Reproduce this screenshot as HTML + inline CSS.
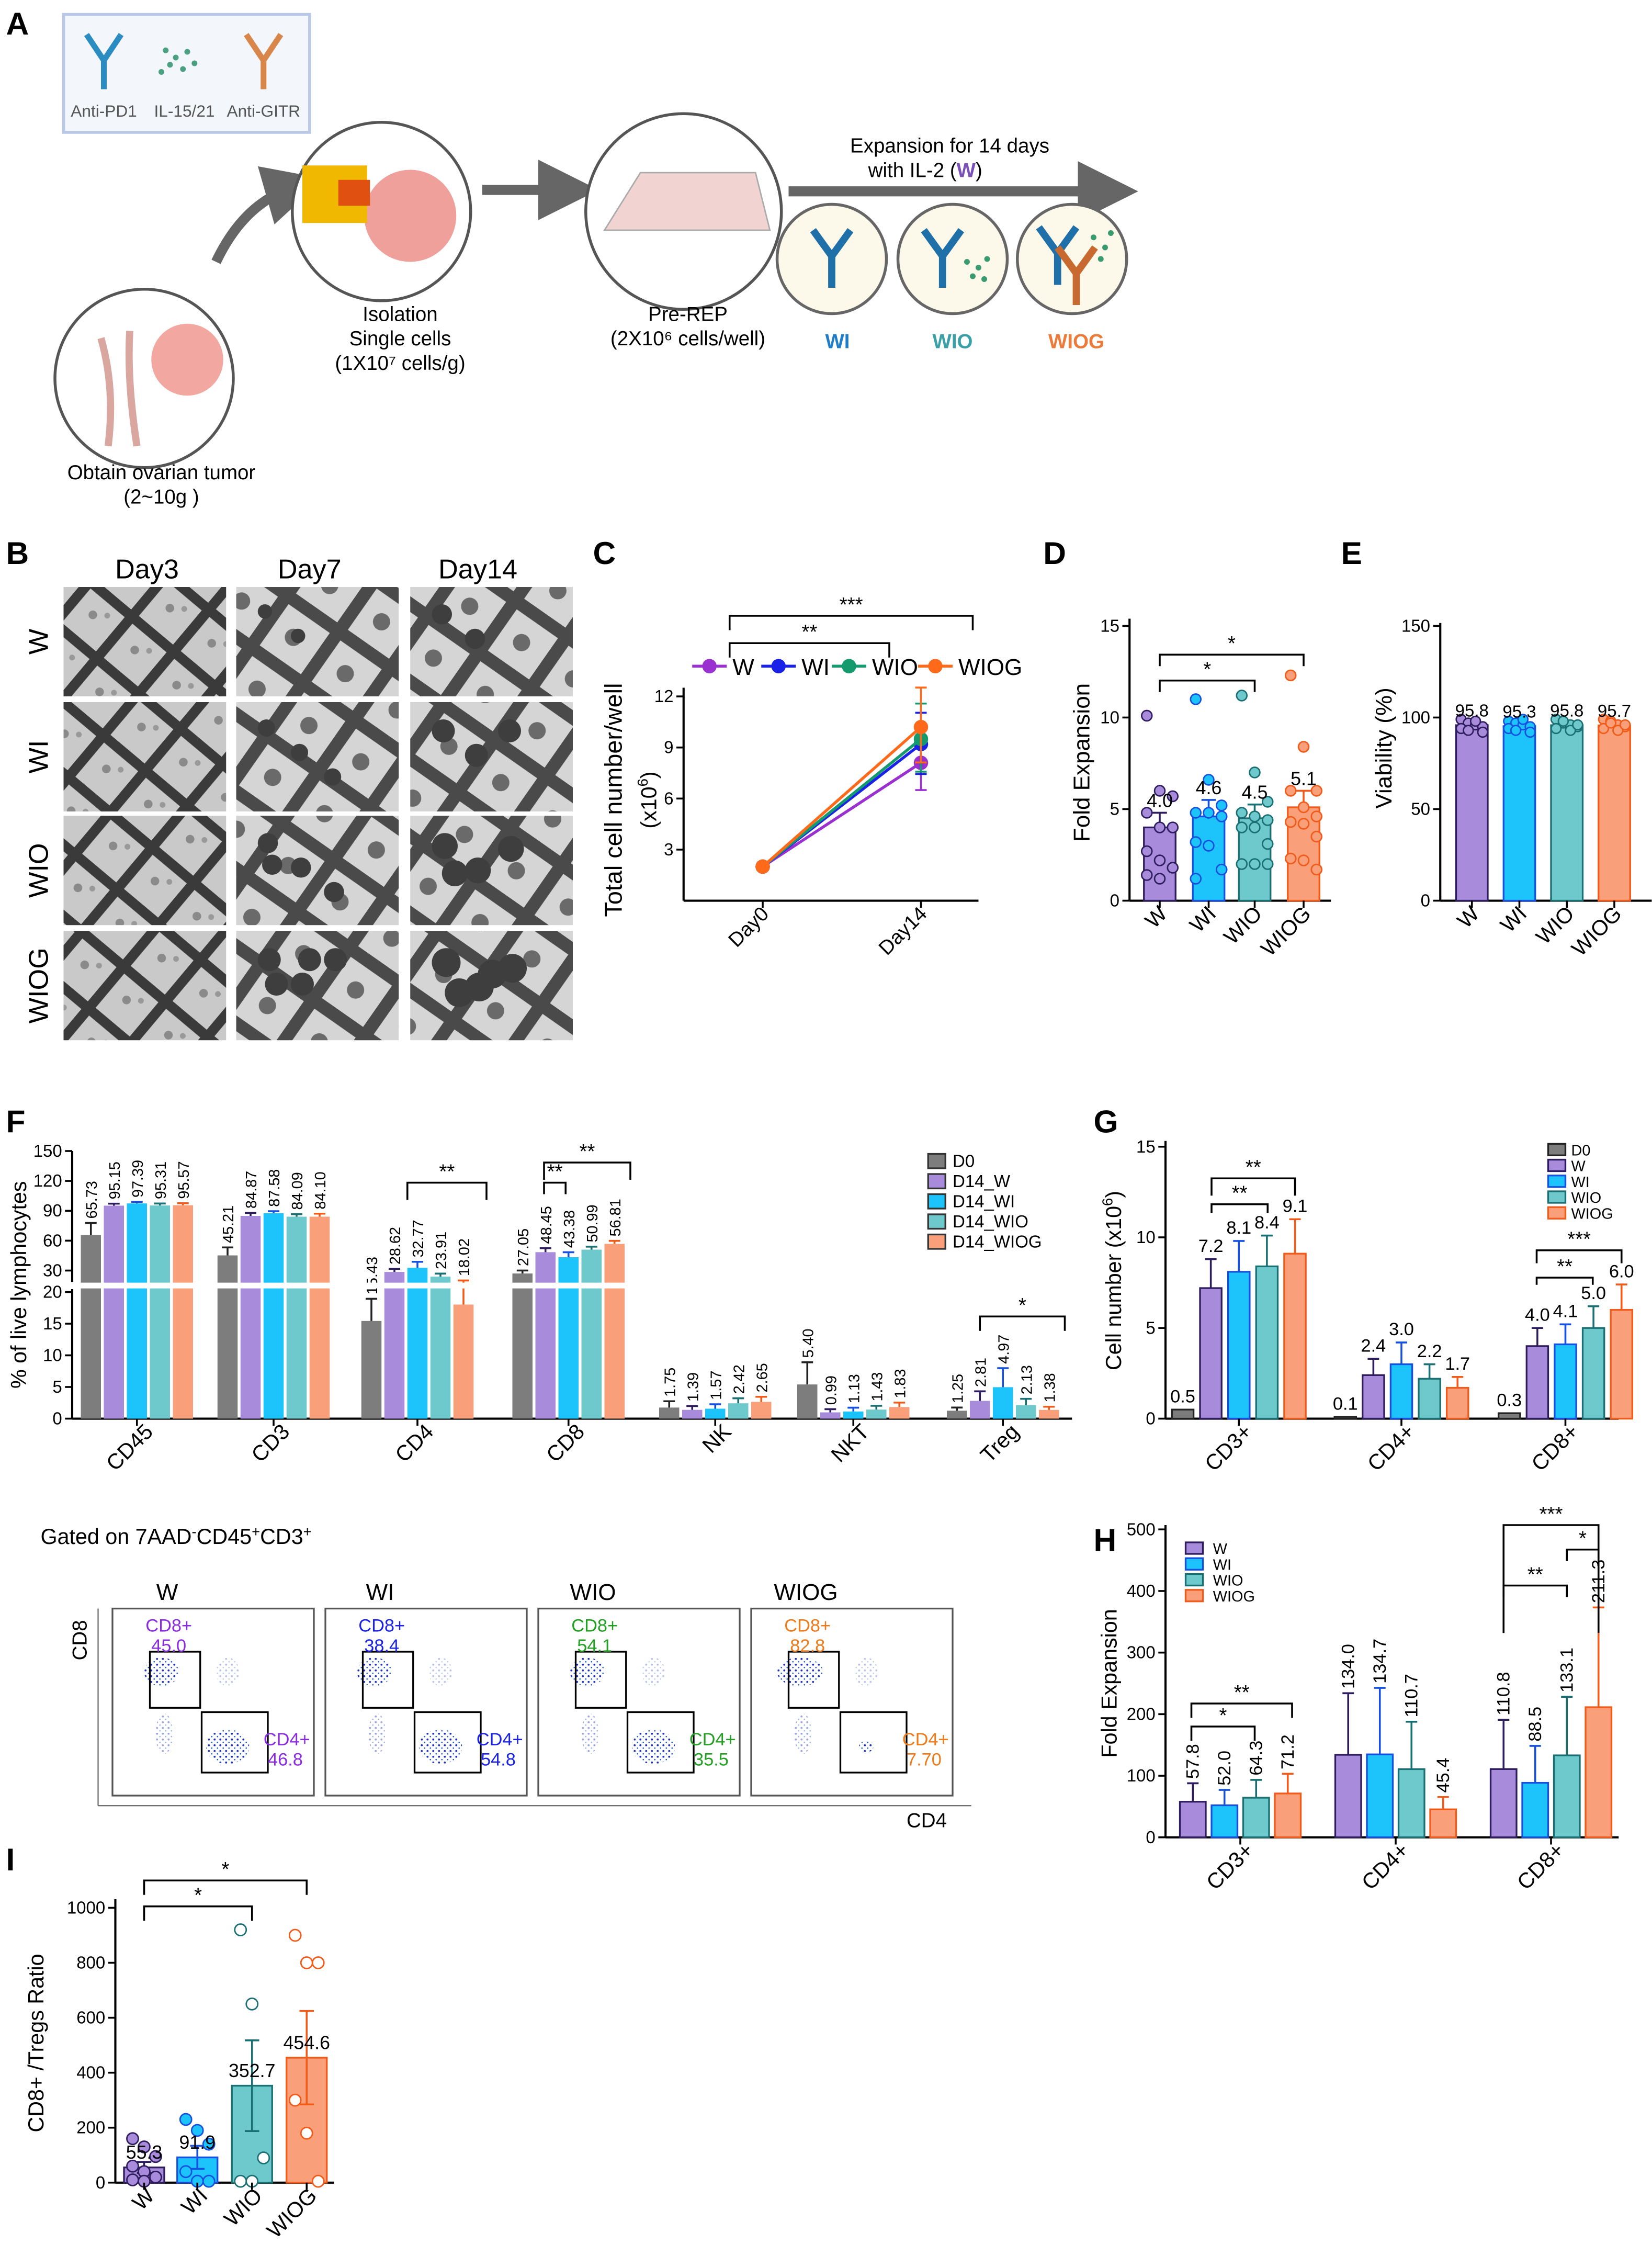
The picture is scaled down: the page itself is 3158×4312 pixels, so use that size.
<!DOCTYPE html>
<html><head><meta charset="utf-8"><style>
html,body{margin:0;padding:0;background:#fff;}
svg{display:block;font-family:"Liberation Sans",Arial,sans-serif;}
</style></head><body>
<svg id="fig" width="3158" height="4312" viewBox="0 0 1148 1568" xmlns="http://www.w3.org/2000/svg">
<defs>
<pattern id="mesh" width="38" height="38" patternUnits="userSpaceOnUse" patternTransform="rotate(40)">
<rect width="38" height="38" fill="#c9c9c9"/>
<rect x="0" y="0" width="38" height="7" fill="#3a3a3a"/>
<rect x="0" y="0" width="7" height="38" fill="#3a3a3a"/>
<circle cx="20" cy="20" r="3" fill="#8a8a8a"/>
<circle cx="28" cy="14" r="2" fill="#999"/>
</pattern>
<pattern id="mesh2" width="44" height="44" patternUnits="userSpaceOnUse" patternTransform="rotate(35)">
<rect width="44" height="44" fill="#d5d5d5"/>
<rect x="0" y="0" width="44" height="9" fill="#4a4a4a"/>
<rect x="0" y="0" width="9" height="44" fill="#4a4a4a"/>
<circle cx="25" cy="26" r="6" fill="#6a6a6a"/>
</pattern>
<pattern id="dots" width="4" height="4" patternUnits="userSpaceOnUse">
<circle cx="1" cy="1" r="0.7" fill="#2030c0"/>
<circle cx="3" cy="3" r="0.5" fill="#2060c0"/>
</pattern>
<marker id="arrowG" markerWidth="6" markerHeight="6" refX="3" refY="3" orient="auto"><path d="M0,0 L6,3 L0,6 z" fill="#666"/></marker>
</defs>

<!-- PANEL A -->
<g>
<text x="4" y="24" font-size="22" font-weight="bold">A</text>
<rect x="44" y="10" width="171" height="82" fill="#f3f6fb" stroke="#b9c8e6" stroke-width="2"/>
<g stroke="#2a8cc0" stroke-width="4" fill="none"><path d="M72 62 V42 M72 42 L60 24 M72 42 L84 24"/></g>
<g fill="#4aa080"><circle cx="115" cy="35" r="2"/><circle cx="122" cy="40" r="2"/><circle cx="130" cy="36" r="2"/><circle cx="118" cy="45" r="2"/><circle cx="127" cy="48" r="2"/><circle cx="135" cy="44" r="2"/><circle cx="112" cy="50" r="2"/></g>
<g stroke="#d8864a" stroke-width="4" fill="none"><path d="M183 62 V42 M183 42 L171 24 M183 42 L195 24"/></g>
<text x="72" y="81" font-size="11.5" text-anchor="middle" fill="#555">Anti-PD1</text>
<text x="128" y="81" font-size="11.5" text-anchor="middle" fill="#555">IL-15/21</text>
<text x="183" y="81" font-size="11.5" text-anchor="middle" fill="#555">Anti-GITR</text>
<path d="M150 182 Q170 140 205 130" stroke="#666" stroke-width="7" fill="none" marker-end="url(#arrowG)"/>
<circle cx="100" cy="263" r="62" fill="#fff" stroke="#555" stroke-width="2"/>
<circle cx="130" cy="250" r="25" fill="#f2a7a0"/>
<path d="M70 235 Q80 270 75 310 M90 230 Q88 265 95 310" stroke="#d9a7a0" stroke-width="5" fill="none"/>
<text x="112" y="333" font-size="14" text-anchor="middle">Obtain ovarian tumor</text>
<text x="112" y="350" font-size="14" text-anchor="middle">(2~10g )</text>
<circle cx="265" cy="147" r="62" fill="#fff" stroke="#555" stroke-width="2"/>
<circle cx="285" cy="150" r="32" fill="#f0a09a"/>
<rect x="210" y="115" width="45" height="40" fill="#f0b800"/>
<rect x="235" y="125" width="22" height="18" fill="#e05010"/>
<text x="278" y="223" font-size="14" text-anchor="middle">Isolation</text>
<text x="278" y="240" font-size="14" text-anchor="middle">Single cells</text>
<text x="278" y="257" font-size="14" text-anchor="middle">(1X10⁷ cells/g)</text>
<line x1="335" y1="132" x2="395" y2="132" stroke="#666" stroke-width="7" marker-end="url(#arrowG)"/>
<circle cx="475" cy="147" r="68" fill="#fff" stroke="#555" stroke-width="2"/>
<path d="M420 160 L445 120 L525 120 L535 160 Z" fill="#f1d4d2" stroke="#aaa"/>
<text x="478" y="223" font-size="14" text-anchor="middle">Pre-REP</text>
<text x="478" y="240" font-size="14" text-anchor="middle">(2X10⁶ cells/well)</text>
<line x1="548" y1="133" x2="770" y2="133" stroke="#666" stroke-width="7" marker-end="url(#arrowG)"/>
<text x="660" y="106" font-size="14" text-anchor="middle">Expansion for 14 days</text>
<text x="643" y="123" font-size="14" text-anchor="middle">with  IL-2 (<tspan fill="#7b4fb8" font-weight="bold">W</tspan>)</text>
<circle cx="578" cy="180" r="38" fill="#fdf9ea" stroke="#666" stroke-width="2"/>
<circle cx="662" cy="180" r="38" fill="#fdf9ea" stroke="#666" stroke-width="2"/>
<circle cx="745" cy="180" r="38" fill="#fdf9ea" stroke="#666" stroke-width="2"/>
<path d="M578 200 V178 M578 178 L565 160 M578 178 L591 160" stroke="#1f6fa8" stroke-width="5" fill="none"/>
<path d="M655 200 V178 M655 178 L642 160 M655 178 L668 160" stroke="#1f6fa8" stroke-width="5" fill="none"/>
<g fill="#3a9a70"><circle cx="672" cy="182" r="2"/><circle cx="680" cy="186" r="2"/><circle cx="676" cy="192" r="2"/><circle cx="686" cy="180" r="2"/><circle cx="684" cy="194" r="2"/></g>
<path d="M735 198 V176 M735 176 L722 158 M735 176 L748 158" stroke="#1f6fa8" stroke-width="5" fill="none"/>
<path d="M748 212 V190 M748 190 L735 172 M748 190 L761 172" stroke="#c86a30" stroke-width="5" fill="none"/>
<g fill="#3a9a70"><circle cx="760" cy="165" r="2"/><circle cx="768" cy="172" r="2"/><circle cx="772" cy="162" r="2"/><circle cx="765" cy="180" r="2"/></g>
<text x="582" y="242" font-size="14" font-weight="bold" text-anchor="middle" fill="#1e7cc8">WI</text>
<text x="662" y="242" font-size="14" font-weight="bold" text-anchor="middle" fill="#3aa0a8">WIO</text>
<text x="748" y="242" font-size="14" font-weight="bold" text-anchor="middle" fill="#ee7a3a">WIOG</text>
</g>

<!-- PANEL B -->
<g id="panelB">
<text x="4" y="392" font-size="22" font-weight="bold">B</text>
<text x="102" y="402" font-size="19" text-anchor="middle">Day3</text>
<text x="215" y="402" font-size="19" text-anchor="middle">Day7</text>
<text x="332" y="402" font-size="19" text-anchor="middle">Day14</text>
<text transform="translate(33,446) rotate(-90)" font-size="19" text-anchor="middle">W</text>
<text transform="translate(33,526) rotate(-90)" font-size="19" text-anchor="middle">WI</text>
<text transform="translate(33,605) rotate(-90)" font-size="19" text-anchor="middle">WIO</text>
<text transform="translate(33,685) rotate(-90)" font-size="19" text-anchor="middle">WIOG</text>
</g>

<text x="412" y="392" font-size="22" font-weight="bold">C</text>
<text x="725" y="392" font-size="22" font-weight="bold">D</text>
<text x="932" y="392" font-size="22" font-weight="bold">E</text>
<text x="4" y="787" font-size="22" font-weight="bold">F</text>
<text x="760" y="787" font-size="22" font-weight="bold">G</text>
<text x="760" y="1078" font-size="22" font-weight="bold">H</text>
<text x="4" y="1300" font-size="22" font-weight="bold">I</text>
<text x="28" y="1073" font-size="15">Gated on 7AAD<tspan font-size="10" dy="-5">-</tspan><tspan dy="5">CD45</tspan><tspan font-size="10" dy="-5">+</tspan><tspan dy="5">CD3</tspan><tspan font-size="10" dy="-5">+</tspan></text>
</svg>
<script>
// ---------------- DATA ----------------
const groupKeys = ['W','WI','WIO','WIOG'];
// Panel C
const cDays = ['Day0','Day14'];
const cW = [2, 8.1];
const cWI = [2, 9.2];
const cWIO = [2, 9.5];
const cWIOG = [2, 10.2];
const cErr = [0.1, 1.6];
const cTicks = [3,6,9,12];
// Panel D
const dMeans = [4.0, 4.6, 4.5, 5.1];
const dSem = [0.8, 0.9, 0.75, 0.9];
const dPtsW = [10.1,6.0,5.7,4.8,4.0,4.0,2.7,2.2,1.8,1.4,1.2];
const dPtsWI = [11.0,6.6,5.2,4.8,4.8,4.6,3.2,3.0,1.7,1.2];
const dPtsWIO = [11.2,7.0,5.4,4.8,4.6,4.4,4.0,4.0,3.1,2.0,2.0,2.0];
const dPtsWIOG = [12.3,8.4,6.0,6.0,5.1,4.6,4.3,4.2,3.5,2.3,2.2,1.7];
const dTicks = [0,5,10,15];
// Panel E
const eMeans = [95.8, 95.3, 95.8, 95.7];
const ePtsW = [99,97,96,95,94,93,98,92];
const ePtsWI = [98,97,96,95,94,93,99,92];
const ePtsWIO = [99,97,96,95,94,98,93,96];
const ePtsWIOG = [99,98,96,95,94,97,93,96];
const eTicks = [0,50,100,150];
// Panel F
const fCats = ['CD45','CD3','CD4','CD8','NK','NKT','Treg'];
const fSeries = ['D0','D14_W','D14_WI','D14_WIO','D14_WIOG'];
const fD0 = [65.73,45.21,15.43,27.05,1.75,5.40,1.25];
const fW = [95.15,84.87,28.62,48.45,1.39,0.99,2.81];
const fWI = [97.39,87.58,32.77,43.38,1.57,1.13,4.97];
const fWIO = [95.31,84.09,23.91,50.99,2.42,1.43,2.13];
const fWIOG = [95.57,84.10,18.02,56.81,2.65,1.83,1.38];
const fSemD0 = [12,8,3.5,3,1,3.5,0.5];
const fSemW = [2,3,3,4,0.6,0.5,1.5];
const fSemWI = [1.5,2,6,5,0.7,0.6,3];
const fSemWIO = [2,2.5,3,3,0.8,0.6,1];
const fSemWIOG = [2,3,2,3,0.8,0.7,0.5];
const fTicksUp = [30,60,90,120,150];
const fTicksLow = [0,5,10,15,20];
// Panel G
const gCats = ['CD3+','CD4+','CD8+'];
const gD0 = [0.5,0.1,0.3];
const gW = [7.2,2.4,4.0];
const gWI = [8.1,3.0,4.1];
const gWIO = [8.4,2.2,5.0];
const gWIOG = [9.1,1.7,6.0];
const gSemW = [1.6,0.9,1.0];
const gSemWI = [1.7,1.2,1.1];
const gSemWIO = [1.7,0.8,1.2];
const gSemWIOG = [1.9,0.6,1.4];
const gTicks = [0,5,10,15];
// Panel H
const hCats = ['CD3+','CD4+','CD8+'];
const hW = [57.8,134.0,110.8];
const hWI = [52.0,134.7,88.5];
const hWIO = [64.3,110.7,133.1];
const hWIOG = [71.2,45.4,211.3];
const hErrW = [30,100,80];
const hErrWI = [25,108,60];
const hErrWIO = [29,77,95];
const hErrWIOG = [32,20,162];
const hTicks = [0,100,200,300,400,500];
// Panel I
const iMeans = [55.3,91.9,352.7,454.6];
const iSem = [20,42,165,170];
const iPtsW = [160,130,95,60,40,20,10,5];
const iPtsWI = [230,190,140,40,5,5];
const iPtsWIO = [920,650,90,5,5];
const iPtsWIOG = [900,800,800,300,180,5];
const iTicks = [0,200,400,600,800,1000];
// Flow
const flowNames = ['W','WI','WIO','WIOG'];
const flowCD8 = ['45.0','38.4','54.1','82.8'];
const flowCD4 = ['46.8','54.8','35.5','7.70'];

// ---------------- HELPERS ----------------
const NS='http://www.w3.org/2000/svg';
const svg=document.getElementById('fig');
const FILL={W:'#a98bdc',WI:'#1dc3fb',WIO:'#6ec9cc',WIOG:'#f9a07a',D0:'#7d7d7d'};
const EDGE={W:'#2e1d5e',WI:'#1650e0',WIO:'#1a6f72',WIOG:'#f25a1a',D0:'#222'};
const LINE={W:'#9b30d0',WI:'#1a22e8',WIO:'#159a6e',WIOG:'#ff6a1a'};
const LBL={W:'#8a2be2',WI:'#1a22e8',WIO:'#22a022',WIOG:'#ee7a1a'};
function mk(tag,a,p){const e=document.createElementNS(NS,tag);for(const k in a)e.setAttribute(k,a[k]);(p||svg).appendChild(e);return e;}
function T(x,y,s,a,name){const e=mk('text',Object.assign({x:x,y:y,'font-size':12},a||{}));e.textContent=s;


return e;}
function L(x1,y1,x2,y2,st,w,name){const e=mk('line',{x1,y1,x2,y2,stroke:st||'#000','stroke-width':w||1.3});


return e;}
function R(x,y,w,h,f,s,name){const e=mk('rect',{x,y:Math.min(y,y+h),width:w,height:Math.abs(h),fill:f,stroke:s||'none','stroke-width':1.2});


return e;}
function C(x,y,r,f,s,name){const e=mk('circle',{cx:x,cy:y,r,fill:f,stroke:s||'none','stroke-width':1});


return e;}
function errBar(x,yTop,yMid,w,col,name){L(x,yMid,x,yTop,col,1.3,name);L(x-w,yTop,x+w,yTop,col,1.3,name+'-cap');}
function bracket(x1,x2,y,drop,star,name){const p=mk('path',{d:`M${x1} ${y+drop} V${y} H${x2} V${y+drop}`,fill:'none',stroke:'#000','stroke-width':1.3});


T((x1+x2)/2,y-3,star,{'text-anchor':'middle','font-size':14},name+'-stars');}
function yAxis(x,yTop,yBot,ticks,yf,name){L(x,yTop,x,yBot,'#000',1.5,name);ticks.forEach(t=>{L(x-5,yf(t),x,yf(t),'#000',1.3,name+'-tick');T(x-7,yf(t)+4,String(t),{'text-anchor':'end','font-size':12},name+'-tick-label');});}
function rotLabel(x,y,s,name,fs){T(0,0,s,{transform:`translate(${x},${y}) rotate(-45)`,'text-anchor':'end','font-size':fs||15},name);}
function vertTitle(x,y,s,name,fs){return T(0,0,s,{transform:`translate(${x},${y}) rotate(-90)`,'text-anchor':'middle','font-size':fs||15},name);}
function vlabel(x,y,s,name,fs){T(0,0,s,{transform:`translate(${x+4},${y}) rotate(-90)`,'font-size':fs||10.5},name);}

// ---------------- PANEL B photos ----------------
const bCols=[44,164,285], bRows=[408,488,567,647];
bRows.forEach((ry,ri)=>bCols.forEach((cx,ci)=>{
  R(cx,ry,113,76,ci==0?'url(#mesh)':'url(#mesh2)','none','micrograph-photo');
  if(ci>0){for(let k=0;k<ri+2;k++){const rr=3+ci*2+ri;C(cx+15+rr+((k*23)%(80-2*rr)),ry+12+rr+((k*17)%(50-2*rr)),rr,'#3e3e3e','none','cell-colony');}}
}));

// ---------------- PANEL C ----------------
const yC=v=>626-v*11.83; const xC=[530,640];
yAxis(475,478,626,cTicks,yC,'c-y-axis');
L(475,626,680,626,'#000',1.5,'c-x-axis');
cDays.forEach((d,i)=>{L(xC[i],626,xC[i],631,'#000',1.3,'c-x-tick');rotLabel(xC[i]+5,636,d,'c-x-label-'+d,14);});
vertTitle(432,556,'Total cell number/well','c-y-title',17);
T(0,0,'(x10',{transform:'translate(456,556) rotate(-90)','text-anchor':'middle','font-size':15},'c-y-unit').innerHTML='(x10<tspan font-size="10" dy="-6">6</tspan><tspan dy="6">)</tspan>';
const cSeries={W:cW,WI:cWI,WIO:cWIO,WIOG:cWIOG};
Object.keys(cSeries).forEach((k,si)=>{
  const v=cSeries[k];
  const pl=mk('polyline',{points:v.map((y,i)=>xC[i]+','+yC(y)).join(' '),fill:'none',stroke:LINE[k],'stroke-width':2});
  
  
  v.forEach((y,i)=>{errBar(xC[i],yC(y+cErr[i]*(1+si*0.15)),yC(y),4,LINE[k],'c-err-'+k);errBar(xC[i],yC(y-cErr[i]*(1+si*0.1)),yC(y),4,LINE[k],'c-err-'+k);C(xC[i],yC(y),5,LINE[k],'none','c-point-'+k);});
});
const cLegX=[493,541,590,650];
groupKeys.forEach((k,i)=>{L(cLegX[i]-12,463,cLegX[i]+12,463,LINE[k],2,'c-legend-line');C(cLegX[i],463,5,LINE[k],'none','c-legend-marker');T(cLegX[i]+16,469,k,{'font-size':16},'c-legend-'+k);});
bracket(507,676,428,10,'***','c-sig-wiog');
bracket(507,618,447,10,'**','c-sig-wio');

// ---------------- PANEL D ----------------
const yD=v=>626-v*12.73; const xD=[806,840,872,906];
yAxis(785,430,626,dTicks,yD,'d-y-axis');
L(785,626,925,626,'#000',1.5,'d-x-axis');
vertTitle(757,530,'Fold Expansion','d-y-title',16);
const dPts=[dPtsW,dPtsWI,dPtsWIO,dPtsWIOG];
groupKeys.forEach((k,i)=>{
  R(xD[i]-11,yD(dMeans[i]),22,yD(0)-yD(dMeans[i]),FILL[k],EDGE[k],'d-bar-'+k);
  errBar(xD[i],yD(dMeans[i]+dSem[i]),yD(dMeans[i]),5,EDGE[k],'d-err-'+k);
  dPts[i].forEach((p,j)=>C(xD[i]+((j%3)-1)*9,yD(p),3.6,FILL[k],EDGE[k],'d-point-'+k));
  T(xD[i],yD(dMeans[i]+dSem[i])-4,dMeans[i].toFixed(1),{'text-anchor':'middle','font-size':13},'d-mean-'+k);
  L(xD[i],626,xD[i],631,'#000',1.3,'d-x-tick');
  rotLabel(xD[i]+6,636,k,'d-x-label-'+k,15);
});
bracket(806,906,455,8,'*','d-sig-wiog');
bracket(806,872,473,8,'*','d-sig-wio');

// ---------------- PANEL E ----------------
const yE=v=>626-v*1.273; const xE=[1023,1056,1089,1122];
yAxis(1001,433,626,eTicks,yE,'e-y-axis');
L(1001,626,1148,626,'#000',1.5,'e-x-axis');
vertTitle(967,520,'Viability (%)','e-y-title',16);
const ePts=[ePtsW,ePtsWI,ePtsWIO,ePtsWIOG];
groupKeys.forEach((k,i)=>{
  R(xE[i]-11,yE(eMeans[i]),22,yE(0)-yE(eMeans[i]),FILL[k],EDGE[k],'e-bar-'+k);
  ePts[i].forEach((p,j)=>C(xE[i]+((j%4)-1.5)*5,yE(p),3.4,FILL[k],EDGE[k],'e-point-'+k));
  T(xE[i],yE(eMeans[i])-6,eMeans[i].toFixed(1),{'text-anchor':'middle','font-size':12},'e-mean-'+k);
  L(xE[i],626,xE[i],631,'#000',1.3,'e-x-tick');
  rotLabel(xE[i]+6,636,k,'e-x-label-'+k,15);
});

// ---------------- PANEL F ----------------
const yF=v=>v<=20?986-v*4.4:890-(v-20)*(90/130);
const xF=[95,190,290,395,497,593,697]; const fOff=[-32,-16,0,16,32];
L(50,800,50,891,'#000',1.5,'f-y-axis-upper');L(50,896,50,986,'#000',1.5,'f-y-axis-lower');
fTicksUp.forEach(t=>{L(45,yF(t),50,yF(t),'#000',1.3,'f-tick');T(43,yF(t)+4,String(t),{'text-anchor':'end','font-size':12},'f-tick-label');});
fTicksLow.forEach(t=>{L(45,yF(t),50,yF(t),'#000',1.3,'f-tick');T(43,yF(t)+4,String(t),{'text-anchor':'end','font-size':12},'f-tick-label');});
L(50,986,745,986,'#000',1.5,'f-x-axis');
vertTitle(18,893,'% of live lymphocytes','f-y-title',15);
const fData=[fD0,fW,fWI,fWIO,fWIOG], fSem=[fSemD0,fSemW,fSemWI,fSemWIO,fSemWIOG], fK=['D0','W','WI','WIO','WIOG'];
fCats.forEach((c,ci)=>{
  fData.forEach((arr,si)=>{
    const x=xF[ci]+fOff[si], v=arr[ci], k=fK[si];
    R(x-7,yF(v),14,986-yF(v),FILL[k],'none','f-bar-'+c+'-'+k);
    errBar(x,yF(v+fSem[si][ci]),yF(v),4,EDGE[k],'f-err');
    vlabel(x,yF(v+fSem[si][ci])-3,v.toFixed(2),'f-value');
  });
  L(xF[ci],986,xF[ci],991,'#000',1.3,'f-x-tick');
  rotLabel(xF[ci]+12,996,c,'f-x-label-'+c,15);
});
R(46,891.5,700,4,'#fff','none','f-axis-break');
bracket(283,338,822,12,'**','f-sig-cd4');
bracket(378,438,808,12,'**','f-sig-cd8-wiog');
bracket(378,393,822,8,'**','f-sig-cd8-wi');
bracket(681,740,915,10,'*','f-sig-treg');
fSeries.forEach((s,i)=>{R(645,802+i*14,12,10,FILL[fK[i]],'#333','f-legend-swatch');T(662,811+i*14,s,{'font-size':12},'f-legend-'+s);});

// ---------------- PANEL G ----------------
const yG=v=>986-v*12.6; const xG=[861,974,1088]; const gOff=[-39,-19.5,0,19.5,39];
yAxis(810,793,986,gTicks,yG,'g-y-axis');
L(810,986,1125,986,'#000',1.5,'g-x-axis');
T(0,0,'',{transform:'translate(779,890) rotate(-90)','text-anchor':'middle','font-size':15},'g-y-title').innerHTML='Cell number (x10<tspan font-size="10" dy="-6">6</tspan><tspan dy="6">)</tspan>';
const gData=[gD0,gW,gWI,gWIO,gWIOG], gSem=[[0,0,0],gSemW,gSemWI,gSemWIO,gSemWIOG];
gCats.forEach((c,ci)=>{
  gData.forEach((arr,si)=>{
    const x=xG[ci]+gOff[si], v=arr[ci], k=fK[si];
    R(x-7.5,yG(v),15,986-yG(v),FILL[k],EDGE[k],'g-bar-'+c+'-'+k);
    if(si>0)errBar(x,yG(v+gSem[si][ci]),yG(v),4,EDGE[k],'g-err');
    T(x,yG(v+gSem[si][ci])-5,v.toFixed(1),{'text-anchor':'middle','font-size':12.5},'g-value');
  });
  L(xG[ci],986,xG[ci],991,'#000',1.3,'g-x-tick');
  rotLabel(xG[ci]+10,996,c,'g-x-label',15);
});
bracket(842,900,819,12,'**','g-sig-cd3-wiog');
bracket(842,881,837,6,'**','g-sig-cd3-wio');
bracket(1068,1127,869,9,'***','g-sig-cd8-wiog');
bracket(1068,1107,888,5,'**','g-sig-cd8-wio');
fK.forEach((k,i)=>{R(1076,795+i*11,12,8,FILL[k],EDGE[k],'g-legend-swatch');T(1092,803+i*11,k,{'font-size':10.5},'g-legend-'+k);});

// ---------------- FLOW PLOTS ----------------
const flowX=[78,226,374,522];
flowNames.forEach((n,i)=>{
  const x=flowX[i], y=1118;
  R(x,y,140,130,'#fff','#555','flow-plot-'+n);
  T(x+38,y-6,n,{'text-anchor':'middle','font-size':16},'flow-title-'+n);
  const e1=mk('ellipse',{cx:x+34,cy:1162,rx:12+(i==3?4:0),ry:10,fill:'url(#dots)'});
  
  
  const e2=mk('ellipse',{cx:x+80,cy:1214,rx:i==3?5:15,ry:i==3?4:12,fill:'url(#dots)'});
  
  
  const e3=mk('ellipse',{cx:x+36,cy:1205,rx:6,ry:14,fill:'url(#dots)',opacity:0.45});
  
  
  const e4=mk('ellipse',{cx:x+80,cy:1162,rx:8,ry:10,fill:'url(#dots)',opacity:0.3});
  
  
  R(x+26,1148,35,39,'none','#000','cd8-gate');
  R(x+62,1190,46,42,'none','#000','cd4-gate');
  const col=LBL[n];
  T(x+23,1134,'CD8+',{'font-size':12.5,fill:col},'cd8-gate-label');
  T(x+27,1148,flowCD8[i],{'font-size':12.5,fill:col},'cd8-gate-value');
  T(x+105,1213,'CD4+',{'font-size':12.5,fill:col},'cd4-gate-label');
  T(x+108,1227,flowCD4[i],{'font-size':12.5,fill:col},'cd4-gate-value');
});
L(68,1255,675,1255,'#666',0.8,'flow-x-axis');
L(68,1118,68,1255,'#666',0.8,'flow-y-axis');
vertTitle(60,1140,'CD8','flow-y-title',14);
T(630,1270,'CD4',{'font-size':14},'flow-x-title');

// ---------------- PANEL H ----------------
const yH=v=>1277-v*0.428; const xH=[862,970,1078]; const hOff=[-33,-11,11,33];
yAxis(810,1060,1277,hTicks,yH,'h-y-axis');
L(810,1277,1125,1277,'#000',1.5,'h-x-axis');
vertTitle(776,1170,'Fold Expansion','h-y-title',15);
const hData=[hW,hWI,hWIO,hWIOG], hErr=[hErrW,hErrWI,hErrWIO,hErrWIOG];
hCats.forEach((c,ci)=>{
  hData.forEach((arr,si)=>{
    const x=xH[ci]+hOff[si], v=arr[ci], k=groupKeys[si];
    R(x-9,yH(v),18,1277-yH(v),FILL[k],EDGE[k],'h-bar-'+c+'-'+k);
    errBar(x,yH(v+hErr[si][ci]),yH(v),4,EDGE[k],'h-err');
    vlabel(x,yH(v+hErr[si][ci])-3,v.toFixed(1),'h-value',12.5);
  });
  L(xH[ci],1277,xH[ci],1282,'#000',1.3,'h-x-tick');
  rotLabel(xH[ci]+10,1287,c,'h-x-label',15);
});
bracket(828,898,1184,10,'**','h-sig-cd3-wiog');
bracket(828,872,1200,10,'*','h-sig-cd3-wio');
bracket(1045,1111,1060,75,'***','h-sig-cd8-wiog');
bracket(1089,1111,1077,8,'*','h-sig-cd8-wio-wiog');
bracket(1045,1089,1102,8,'**','h-sig-cd8-wio');
groupKeys.forEach((k,i)=>{R(824,1072+i*11,12,8,FILL[k],EDGE[k],'h-legend-swatch');T(843,1080+i*11,k,{'font-size':10.5},'h-legend-'+k);});

// ---------------- PANEL I ----------------
const yI=v=>1517-v*0.191; const xI=[100,137,175,213];
yAxis(80,1320,1517,iTicks,yI,'i-y-axis');
L(80,1517,232,1517,'#000',1.5,'i-x-axis');
vertTitle(30,1420,'CD8+ /Tregs Ratio','i-y-title',15);
const iPts=[iPtsW,iPtsWI,iPtsWIO,iPtsWIOG];
groupKeys.forEach((k,i)=>{
  R(xI[i]-14,yI(iMeans[i]),28,1517-yI(iMeans[i]),FILL[k],EDGE[k],'i-bar-'+k);
  errBar(xI[i],yI(iMeans[i]+iSem[i]),yI(iMeans[i]),5,EDGE[k],'i-err-'+k);
  errBar(xI[i],yI(Math.max(0,iMeans[i]-iSem[i])),yI(iMeans[i]),5,EDGE[k],'i-err-'+k);
  iPts[i].forEach((p,j)=>C(xI[i]+((j%3)-1)*8,yI(p),4,i>=2?'#fff':FILL[k],EDGE[k],'i-point-'+k));
  T(xI[i],yI(iMeans[i])-6,iMeans[i].toFixed(1),{'text-anchor':'middle','font-size':13},'i-mean-'+k);
  L(xI[i],1517,xI[i],1522,'#000',1.3,'i-x-tick');
  rotLabel(xI[i]+8,1527,k,'i-x-label-'+k,15);
});
bracket(100,213,1307,10,'*','i-sig-wiog');
bracket(100,175,1325,10,'*','i-sig-wio');
</script>
</body></html>
